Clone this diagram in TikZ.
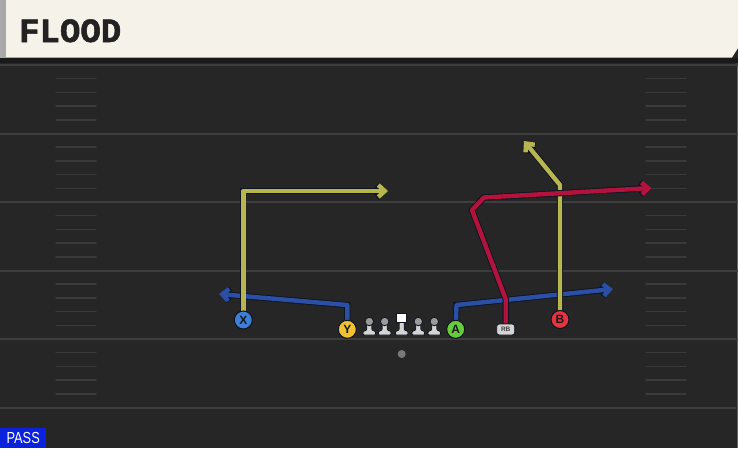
\documentclass[tikz,border=0pt]{standalone}
\usepackage{fontspec}
\usetikzlibrary{arrows.meta, positioning}

\newfontfamily\titlefont{Liberation Mono}[BoldFeatures={FakeBold=1.6}]
\newfontfamily\labelfont{Liberation Sans}

\definecolor{fieldbg}{HTML}{262626}
\definecolor{linegray}{HTML}{3E3E3E}
\definecolor{hashgray}{HTML}{3A3A3A}
\definecolor{cream}{HTML}{F5F2EA}
\definecolor{stripgray}{HTML}{A8A8A8}
\definecolor{titlegray}{HTML}{222222}
\definecolor{passblue}{HTML}{0B22DC}
\definecolor{routeedge}{HTML}{0E1420}
\definecolor{routeyellow}{HTML}{B8B64F}
\definecolor{routeblue}{HTML}{2C4FA6}
\definecolor{routered}{HTML}{B3123C}
\definecolor{xblue}{HTML}{3D7FD6}
\definecolor{yyellow}{HTML}{F0C232}
\definecolor{agreen}{HTML}{66CC3C}
\definecolor{bred}{HTML}{E5333F}
\definecolor{lmgray}{HTML}{D4D4D4}
\definecolor{headgray}{HTML}{9A9A9A}
\definecolor{qbgray}{HTML}{7A7A7A}

\pgfdeclarelayer{field}
\pgfdeclarelayer{routes}
\pgfsetlayers{field,routes,main}

\tikzset{
  player/.style={circle, draw=routeedge, line width=1pt, minimum size=18pt, inner sep=0pt,
    font=\labelfont\bfseries\fontsize{12}{12}\selectfont, text=black!90},
  rbbox/.style={rectangle, rounded corners=2.5pt, draw=routeedge, line width=0.8pt, fill=lmgray,
    minimum width=18pt, minimum height=11pt, inner sep=0pt,
    font=\labelfont\bfseries\fontsize{6.5}{6.5}\selectfont, text=black!75},
  lmhead/.style={circle, draw=routeedge, line width=0.8pt, fill=headgray, minimum size=8.5pt, inner sep=0pt},
  cnhead/.style={rectangle, draw=routeedge, line width=0.8pt, fill=white, minimum width=10pt, minimum height=9pt, inner sep=0pt},
  lmbody/.style={draw=routeedge, line width=0.8pt, fill=lmgray, rounded corners=1pt},
  route/.style={line width=4.4pt, line join=round, preaction={draw=routeedge, line width=6.2pt}},
  routetip/.style={-{Straight Barb[length=6.5pt, width=12pt]}},
  fieldline/.style={draw=linegray, line width=2pt},
  hashmark/.style={draw=hashgray, line width=1.5pt, line cap=round},
}

\begin{document}
\begin{tikzpicture}[x=1pt, y=-1pt]
\useasboundingbox (0,0) rectangle (738,448);

\begin{pgfonlayer}{field}
% field and header
\fill[fieldbg] (0,0) rectangle (738,448);
\fill[black!90] (0,57.5) rectangle (738,63);
\fill[cream] (6,0) -- (738,0) -- (738,48) -- (732,57.5) -- (6,57.5) -- cycle;
\fill[stripgray] (0,0) rectangle (6,57.5);
\draw[linegray!80, line width=1pt] (737.5,63) -- (737.5,448);

% yard lines
\foreach \y in {65,133.5,202,270.5,339,407.5}
  \draw[fieldline] (0,\y) -- (738,\y);

% hash marks
\foreach \i in {0,...,4}
  \foreach \j in {1,...,4} {
    \pgfmathsetmacro\yy{65+68.5*\i+13.7*\j}
    \draw[hashmark] (56,\yy) -- (96,\yy);
    \draw[hashmark] (646,\yy) -- (686,\yy);
  }
\end{pgfonlayer}

% title and play type
\node[anchor=base west, inner sep=0pt, text=titlegray,
  font=\titlefont\bfseries\fontsize{34}{34}\selectfont] (title) at (19,42) {FLOOD};
\node[anchor=south west, fill=passblue, text=white, minimum width=46pt, minimum height=20pt,
  inner sep=0pt, font=\labelfont\fontsize{16}{16}\selectfont] (pass) at (0,448) {\scalebox{0.8}[1]{PASS}};

% offensive line
\foreach \x/\name in {369.3/lt, 384.7/lg, 418.3/rg, 434.3/rt} {
  \draw[lmbody] (\x-6.3,335) -- (\x-6.3,331.5) -- (\x-2.5,330) -- (\x-2.5,324) -- (\x+2.5,324)
    -- (\x+2.5,330) -- (\x+6.3,331.5) -- (\x+6.3,335) -- cycle;
  \node[lmhead] (\name) at (\x,321.5) {};
}
\draw[lmbody] (395.4,335) -- (395.4,331.5) -- (399.2,330) -- (399.2,322) -- (404.2,322)
  -- (404.2,330) -- (408,331.5) -- (408,335) -- cycle;
\node[cnhead] (cn) at (401.7,318.3) {};
\node[circle, fill=qbgray, minimum size=8pt, inner sep=0pt] (qb) at (401.7,354) {};

% skill players
\node[player, fill=xblue] (X) at (243.3,320) {X};
\node[player, fill=yyellow] (Y) at (347.3,329.3) {Y};
\node[player, fill=agreen] (A) at (455.7,329.3) {A};
\node[rbbox] (rb) at (505.7,329.5) {RB};
\node[player, fill=bred] (B) at (560,319.5) {B};

% route points
\coordinate (xcut) at (243.3,191);
\coordinate (xtip) at (388,191);
\coordinate (ycut) at (347.3,305);
\coordinate (ytip) at (219,294);
\coordinate (acut) at (456.5,305);
\coordinate (atip) at (613,289);
\coordinate (rbcut) at (505.7,299);
\coordinate (rbpost) at (472,210);
\coordinate (rbturn) at (484,197.5);
\coordinate (rbtip) at (651.5,188);
\coordinate (bcut) at (560,185);
\coordinate (btip) at (524,141);

\begin{pgfonlayer}{routes}
\draw[route, routeblue, routetip] (Y) -- (ycut) -- (ytip);
\draw[route, routeblue, routetip] (A) -- (acut) -- (atip);
\draw[route, routeyellow, routetip] (X) -- (xcut) -- (xtip);
\draw[route, routeyellow, routetip] (B) -- (bcut) -- (btip);
\draw[route, routered, routetip] (rb) -- (rbcut) -- (rbpost) -- (rbturn) -- (rbtip);
\end{pgfonlayer}
\end{tikzpicture}
\end{document}
